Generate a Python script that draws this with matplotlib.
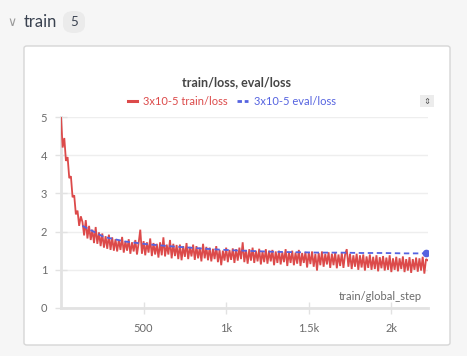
import matplotlib
matplotlib.use("Agg")
import matplotlib.pyplot as plt
from matplotlib.patches import FancyBboxPatch, Rectangle
from matplotlib.lines import Line2D

# ---------------- data ----------------
train_steps = list(range(0, 2221, 10))
train_loss = [
    5.00, 4.20, 4.45, 3.85, 3.95, 3.40, 3.45, 2.90, 2.95, 2.45,
    2.55, 2.15, 2.40, 2.25, 1.90, 2.30, 1.82, 2.15, 1.78, 2.05,
    1.70, 2.12, 1.68, 1.98, 1.62, 1.95, 1.58, 1.88, 1.55, 1.92,
    1.52, 1.85, 1.50, 1.80, 1.48, 1.78, 1.52, 1.86, 1.45, 1.75,
    1.50, 1.80, 1.42, 1.72, 1.48, 1.78, 1.40, 1.70, 2.05, 1.42,
    1.75, 1.38, 1.72, 1.45, 1.82, 1.36, 1.70, 1.40, 1.68, 1.32,
    1.72, 1.38, 1.85, 1.35, 1.66, 1.40, 1.78, 1.30, 1.68, 1.36,
    1.65, 1.28, 1.66, 1.25, 1.62, 1.34, 1.70, 1.28, 1.60, 1.35,
    1.66, 1.26, 1.62, 1.30, 1.58, 1.22, 1.68, 1.30, 1.60, 1.25,
    1.58, 1.22, 1.55, 1.28, 1.62, 1.20, 1.52, 1.12, 1.50, 1.24,
    1.58, 1.20, 1.52, 1.26, 1.56, 1.18, 1.54, 1.24, 1.58, 1.28,
    1.72, 1.20, 1.52, 1.16, 1.54, 1.24, 1.58, 1.18, 1.50, 1.22,
    1.55, 1.14, 1.48, 1.20, 1.54, 1.16, 1.50, 1.22, 1.52, 1.12,
    1.48, 1.18, 1.50, 1.14, 1.46, 1.20, 1.54, 1.10, 1.46, 1.18,
    1.50, 1.12, 1.45, 1.16, 1.52, 1.10, 1.44, 1.18, 1.47, 1.06,
    1.45, 1.15, 1.48, 1.08, 1.42, 0.98, 1.44, 1.12, 1.48, 1.08,
    1.42, 1.14, 1.46, 1.05, 1.42, 1.12, 1.45, 1.04, 1.40, 1.10,
    1.44, 1.05, 1.40, 1.54, 1.08, 1.42, 1.02, 1.38, 1.08, 1.42,
    1.00, 1.38, 1.06, 1.40, 0.98, 1.35, 1.05, 1.40, 1.00, 1.34,
    1.02, 1.38, 0.96, 1.33, 1.04, 1.36, 0.98, 1.32, 1.00, 1.38,
    0.94, 1.30, 1.00, 1.34, 0.96, 1.30, 1.02, 1.35, 0.94, 1.28,
    0.98, 1.33, 0.92, 1.28, 1.00, 1.32, 0.95, 1.30, 0.98, 1.34,
    0.90, 1.28, 1.25,
]
eval_steps = [130, 260, 390, 520, 650, 780, 910, 1040, 1170, 1300,
              1430, 1560, 1690, 1820, 1950, 2080, 2210]
eval_loss = [2.15, 1.86, 1.74, 1.67, 1.62, 1.58, 1.54, 1.51, 1.49, 1.47,
             1.46, 1.45, 1.45, 1.44, 1.44, 1.43, 1.43]
x_ticks = [500, 1000, 1500, 2000]
x_tick_labels = ["500", "1k", "1.5k", "2k"]
y_ticks = [0, 1, 2, 3, 4, 5]

RED = "#dc4a4a"
BLUE = "#5563e0"
GRAY_TXT = "#6b6b6b"
FONT = "Lato"

W, H = 467, 356
fig = plt.figure(figsize=(W / 100, H / 100), dpi=100)
fig.patch.set_facecolor("#f6f6f6")

def fx(px):
    return px / W

def fy(py):
    return 1 - py / H

# card
card = FancyBboxPatch((fx(24), fy(345)), fx(450) - fx(24), fy(46) - fy(345),
                      boxstyle="round,pad=0,rounding_size=0.006",
                      transform=fig.transFigure, facecolor="white",
                      edgecolor="#d6d6d6", linewidth=1.0, zorder=-5)
fig.patches.append(card)

# header
fig.text(fx(12), fy(22), "\u2228", ha="center", va="center", fontsize=9,
         color="#9a9a9a", family="DejaVu Sans")
fig.text(fx(24), fy(22), "train", ha="left", va="center", fontsize=12,
         color="#3a4250", family=FONT)
fig.patches.append(FancyBboxPatch((fx(63), fy(33)), fx(22), fy(11) - fy(33),
                                  boxstyle="round,pad=0,rounding_size=0.023",
                                  transform=fig.transFigure, facecolor="#ebebeb",
                                  edgecolor="none", zorder=-5))
fig.text(fx(74), fy(22), "5", ha="center", va="center", fontsize=9.5,
         color="#3a4250", family=FONT)

# title
fig.text(fx(237), fy(82), "train/loss, eval/loss", ha="center", va="center",
         fontsize=9, fontweight="bold", color="#454545", family=FONT)

# legend
fig.lines.append(Line2D([fx(128), fx(137)], [fy(101), fy(101)], color=RED,
                        lw=2.2, transform=fig.transFigure))
fig.text(fx(143), fy(101), "3x10-5 train/loss", ha="left", va="center",
         fontsize=8, color=RED, family=FONT)
fig.lines.append(Line2D([fx(237), fx(248)], [fy(101), fy(101)], color=BLUE,
                        lw=2.0, ls=(0, (1.6, 1.0)), transform=fig.transFigure))
fig.text(fx(254), fy(101), "3x10-5 eval/loss", ha="left", va="center",
         fontsize=8, color=BLUE, family=FONT)

# small icon
fig.patches.append(Rectangle((fx(420), fy(107)), fx(14), fy(95) - fy(107),
                             transform=fig.transFigure, facecolor="#ececec",
                             edgecolor="none", zorder=-4))
fig.text(fx(427), fy(101), "\u21d5", ha="center", va="center", fontsize=6,
         color="#555555", family="DejaVu Sans")

# axes
ax = fig.add_axes([fx(61), fy(308), fx(428) - fx(61), fy(117) - fy(308)])
ax.set_zorder(2)
ax.set_facecolor("none")
ax.plot(train_steps, train_loss, color=RED, lw=1.3, zorder=3,
        solid_joinstyle="miter")
ax.plot(eval_steps, eval_loss, color=BLUE, lw=1.3, ls=(0, (3, 2)), zorder=4,
        marker="o", markersize=4.5, markevery=[len(eval_steps) - 1])

ax.set_xlim(0, 2222)
ax.set_ylim(0, 5)
ax.set_xticks(x_ticks)
ax.set_xticklabels(x_tick_labels)
ax.set_yticks(y_ticks)
ax.set_yticklabels([str(v) for v in y_ticks])
ax.grid(axis="y", color="#eeeeee", lw=1.0, zorder=0)
ax.set_axisbelow(True)
for s in ["top", "right"]:
    ax.spines[s].set_visible(False)
for s in ["left", "bottom"]:
    ax.spines[s].set_color("#e2e2e2")
    ax.spines[s].set_linewidth(2.0)
ax.tick_params(axis="x", direction="inout", length=8, width=1,
               color="#e2e2e2", labelcolor=GRAY_TXT, labelsize=8, pad=7)
ax.tick_params(axis="y", direction="inout", length=8, width=1,
               color="#e2e2e2", labelcolor=GRAY_TXT, labelsize=8, pad=6)
for lab in ax.get_xticklabels() + ax.get_yticklabels():
    lab.set_family(FONT)
ax.text(0.984, 0.058, "train/global_step", transform=ax.transAxes,
        ha="right", va="center", fontsize=8, color=GRAY_TXT, family=FONT)

fig.savefig("out.png", dpi=100, facecolor=fig.get_facecolor())
